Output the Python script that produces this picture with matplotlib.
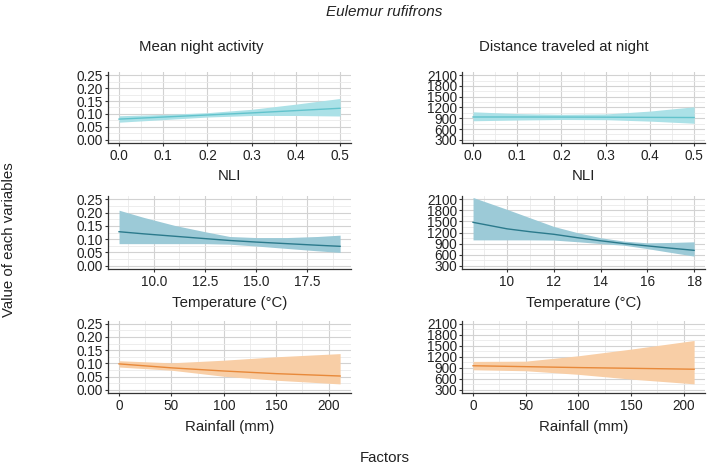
import matplotlib.pyplot as plt
from matplotlib.ticker import MultipleLocator, FixedLocator

plt.rcParams["font.family"] = ["Liberation Sans", "DejaVu Sans"]

# ── Data ──────────────────────────────────────────────────────────────────
nli_x = [0.0, 0.1, 0.2, 0.3, 0.4, 0.5]
act_nli_fit = [0.080, 0.088, 0.096, 0.104, 0.113, 0.122]
act_nli_lo = [0.068, 0.078, 0.088, 0.094, 0.094, 0.092]
act_nli_hi = [0.093, 0.098, 0.105, 0.118, 0.138, 0.160]
dist_nli_fit = [935, 935, 933, 930, 925, 920]
dist_nli_lo = [830, 850, 865, 860, 820, 760]
dist_nli_hi = [1080, 1030, 1010, 1020, 1100, 1220]

temp_x_left = [8.3, 9.5, 11.0, 12.5, 13.7, 15.0, 16.5, 18.0, 19.1]
act_temp_fit = [0.128, 0.120, 0.111, 0.102, 0.095, 0.089, 0.083, 0.077, 0.073]
act_temp_lo = [0.083, 0.083, 0.083, 0.083, 0.081, 0.074, 0.065, 0.056, 0.050]
act_temp_hi = [0.209, 0.182, 0.152, 0.128, 0.110, 0.106, 0.106, 0.110, 0.115]

temp_x_right = [8.55, 10, 11, 12, 13, 14, 15, 16, 17, 18]
dist_temp_fit = [1476, 1300, 1220, 1152, 1060, 976, 900, 837, 775, 717]
dist_temp_lo = [1000, 1000, 1000, 995, 950, 900, 855, 763, 660, 560]
dist_temp_hi = [2150, 1828, 1596, 1365, 1198, 1059, 967, 920, 930, 948]

rain_x_left = [0, 50, 100, 150, 211]
act_rain_fit = [0.098, 0.083, 0.071, 0.061, 0.052]
act_rain_lo = [0.086, 0.074, 0.051, 0.036, 0.022]
act_rain_hi = [0.110, 0.102, 0.112, 0.125, 0.137]

rain_x_right = [0, 50, 100, 150, 210]
dist_rain_fit = [955, 930, 905, 885, 860]
dist_rain_lo = [845, 818, 720, 590, 460]
dist_rain_hi = [1073, 1080, 1227, 1409, 1645]

COLORS = {
    "nli":  ("#62c3cc", "#abe1e7"),
    "temp": ("#2b7a8c", "#9ccad7"),
    "rain": ("#e8893a", "#f8cea6"),
}

fig = plt.figure(figsize=(7.09, 4.69), dpi=100)
col_left = [0.1523, 0.6516]
col_w = 0.343
rows = [(0.6951, 0.1514), (0.4264, 0.1557), (0.1620, 0.1546)]

panels = [
    (0, 0, nli_x, act_nli_fit, act_nli_lo, act_nli_hi, "nli", "NLI"),
    (0, 1, nli_x, dist_nli_fit, dist_nli_lo, dist_nli_hi, "nli", "NLI"),
    (1, 0, temp_x_left, act_temp_fit, act_temp_lo, act_temp_hi, "temp", "Temperature (°C)"),
    (1, 1, temp_x_right, dist_temp_fit, dist_temp_lo, dist_temp_hi, "temp", "Temperature (°C)"),
    (2, 0, rain_x_left, act_rain_fit, act_rain_lo, act_rain_hi, "rain", "Rainfall (mm)"),
    (2, 1, rain_x_right, dist_rain_fit, dist_rain_lo, dist_rain_hi, "rain", "Rainfall (mm)"),
]

for r, c, x, fit, lo, hi, key, xlabel in panels:
    b, h = rows[r]
    ax = fig.add_axes([col_left[c], b, col_w, h])
    line_c, fill_c = COLORS[key]
    ax.fill_between(x, lo, hi, color=fill_c, lw=0, zorder=2)
    ax.plot(x, fit, color=line_c, lw=1.0, zorder=3)

    # ggplot-style 5% expansion
    span = x[-1] - x[0]
    ax.set_xlim(x[0] - 0.05 * span, x[-1] + 0.05 * span)
    if c == 0:
        ax.set_ylim(-0.0125, 0.2625)
        ax.yaxis.set_major_locator(FixedLocator([0, 0.05, 0.10, 0.15, 0.20, 0.25]))
        ax.yaxis.set_minor_locator(FixedLocator([0.025, 0.075, 0.125, 0.175, 0.225]))
        ax.set_yticklabels(["0.00", "0.05", "0.10", "0.15", "0.20", "0.25"])
    else:
        ax.set_ylim(210, 2190)
        ax.yaxis.set_major_locator(FixedLocator([300, 600, 900, 1200, 1500, 1800, 2100]))
        ax.yaxis.set_minor_locator(FixedLocator([450, 750, 1050, 1350, 1650, 1950]))

    if key == "nli":
        ax.xaxis.set_major_locator(FixedLocator([0, 0.1, 0.2, 0.3, 0.4, 0.5]))
        ax.xaxis.set_minor_locator(FixedLocator([0.05, 0.15, 0.25, 0.35, 0.45]))
        ax.set_xticklabels(["0.0", "0.1", "0.2", "0.3", "0.4", "0.5"])
    elif key == "temp" and c == 0:
        ax.xaxis.set_major_locator(FixedLocator([10, 12.5, 15, 17.5]))
        ax.xaxis.set_minor_locator(FixedLocator([8.75, 11.25, 13.75, 16.25, 18.75]))
        ax.set_xticklabels(["10.0", "12.5", "15.0", "17.5"])
    elif key == "temp":
        ax.xaxis.set_major_locator(MultipleLocator(2))
        ax.xaxis.set_minor_locator(FixedLocator([9, 11, 13, 15, 17]))
    else:
        ax.xaxis.set_major_locator(MultipleLocator(50))
        ax.xaxis.set_minor_locator(FixedLocator([25, 75, 125, 175]))

    ax.grid(which="major", color="#d2d2d2", lw=0.8, zorder=0)
    ax.grid(which="minor", color="#eaeaea", lw=0.6, zorder=0)
    ax.set_axisbelow(True)
    for s in ["top", "right"]:
        ax.spines[s].set_visible(False)
    for s in ["left", "bottom"]:
        ax.spines[s].set_color("#333333")
        ax.spines[s].set_linewidth(0.9)
    ax.tick_params(which="major", length=2.5, width=0.8, color="#333333",
                   labelsize=9.8, labelcolor="#222222", pad=1.5)
    ax.tick_params(axis="y", which="major", pad=1.0)
    ax.tick_params(which="minor", length=0)
    ax.set_xlabel(xlabel, fontsize=10.8, color="#222222", labelpad=5)

# ── Titles ────────────────────────────────────────────────────────────────
fig.text(384 / 709, 1 - 12 / 469, "Eulemur rufifrons", style="italic",
         fontsize=11, ha="center", va="center", color="#222222")
fig.text(201 / 709, 1 - 47 / 469, "Mean night activity", fontsize=10.8,
         ha="center", va="center", color="#222222")
fig.text(564 / 709, 1 - 47 / 469, "Distance traveled at night", fontsize=10.8,
         ha="center", va="center", color="#222222")
fig.text(385 / 709, 1 - 458 / 469, "Factors", fontsize=10.8,
         ha="center", va="center", color="#222222")
fig.text(9 / 709, 1 - 240 / 469, "Value of each variables", fontsize=10.8,
         rotation=90, ha="center", va="center", color="#222222")

plt.savefig("out.png", dpi=100)
